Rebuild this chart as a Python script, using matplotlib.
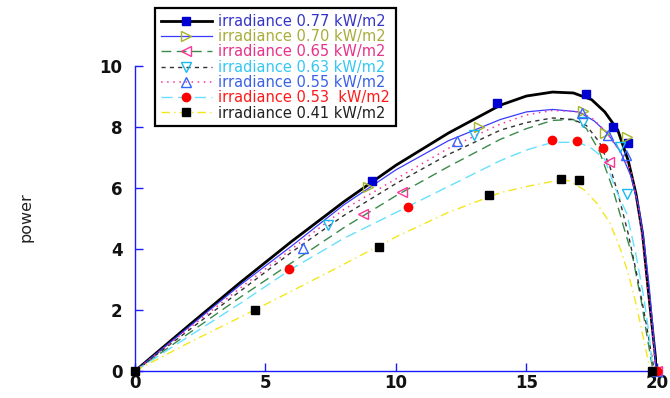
#!/usr/bin/env python3
"""PV array power vs voltage at several irradiance levels (simulated curves + measured points)."""

import matplotlib
matplotlib.use("Agg")
import matplotlib.pyplot as plt
from matplotlib.lines import Line2D

# Irradiance levels (kW/m2) and legend labels
IRRADIANCE_LABELS = [
    "irradiance 0.77 kW/m2",
    "irradiance 0.70 kW/m2",
    "irradiance 0.65 kW/m2",
    "irradiance 0.63 kW/m2",
    "irradiance 0.55 kW/m2",
    "irradiance 0.53  kW/m2",
    "irradiance 0.41 kW/m2",
]

# Simulated P-V curves
v_077 = [0, 2, 4, 6, 8, 10, 12, 14, 15, 16, 16.8, 17.5, 18, 18.5, 18.9, 19.2, 19.45, 19.65, 19.85, 20]
p_077 = [0, 1.45, 2.88, 4.25, 5.55, 6.75, 7.8, 8.72, 9.02, 9.15, 9.12, 8.9, 8.5, 7.9, 6.9, 5.8, 4.5, 2.8, 1.2, 0]

v_070 = [0, 2, 4, 6, 8, 10, 12, 14, 15, 16, 17, 17.6, 18.1, 18.6, 19.0, 19.3, 19.5, 19.7, 19.85, 19.97]
p_070 = [0, 1.4, 2.8, 4.1, 5.45, 6.6, 7.55, 8.25, 8.5, 8.58, 8.5, 8.2, 7.8, 7.2, 6.4, 5.4, 4.3, 2.8, 1.4, 0]

v_065 = [0, 2, 4, 6, 8, 10, 12, 14, 15, 16, 16.8, 17.3, 17.8, 18.3, 18.7, 19.08, 19.4, 19.6, 19.85]
p_065 = [0, 1.2, 2.4, 3.55, 4.7, 5.75, 6.7, 7.6, 7.95, 8.22, 8.25, 7.95, 7.2, 6.0, 4.8, 3.7, 2.3, 1.25, 0]

v_063 = [0, 2, 4, 6, 8, 10, 12, 14, 15, 16, 16.8, 17.3, 17.8, 18.2, 18.5, 18.9, 19.27, 19.6, 19.9]
p_063 = [0, 1.3, 2.6, 3.9, 5.1, 6.15, 7.1, 7.9, 8.15, 8.3, 8.25, 8.05, 7.5, 6.7, 5.85, 4.5, 3.0, 1.5, 0]

v_055 = [0, 2, 4, 6, 8, 10, 12, 14, 15, 16, 17, 17.5, 18, 18.5, 19.0, 19.3, 19.5, 19.7, 19.85, 19.95]
p_055 = [0, 1.35, 2.7, 4.0, 5.3, 6.3, 7.3, 8.1, 8.4, 8.55, 8.5, 8.3, 7.9, 7.3, 6.6, 5.3, 3.8, 2.3, 1.0, 0]

v_053 = [0, 2, 4, 6, 8, 10, 12, 14, 15, 16, 17, 17.5, 18, 18.4, 18.85, 19.2, 19.5, 19.7, 19.85]
p_053 = [0, 1.1, 2.2, 3.35, 4.35, 5.2, 6.05, 6.9, 7.25, 7.5, 7.5, 7.3, 6.95, 6.0, 5.15, 3.8, 2.4, 1.2, 0]

v_041 = [0, 2, 4, 6, 8, 10, 12, 14, 15, 16, 16.6, 17.2, 17.7, 18.2, 18.6, 18.9, 19.2, 19.5, 19.75]
p_041 = [0, 0.9, 1.75, 2.62, 3.5, 4.4, 5.2, 5.85, 6.05, 6.22, 6.25, 5.95, 5.5, 4.85, 4.0, 3.2, 2.2, 1.0, 0]

# Measured points
mv_077 = [9.08, 13.87, 17.28, 18.31, 18.89]
mp_077 = [6.23, 8.79, 9.08, 8.0, 7.48]
mv_070 = [8.93, 13.18, 17.16, 18.0, 18.85]
mp_070 = [6.03, 8.0, 8.52, 7.8, 7.67]
mv_065 = [8.74, 10.23, 18.16, 20.0]
mp_065 = [5.15, 5.87, 6.85, 0]
mv_063 = [7.39, 12.99, 17.16, 18.58, 18.85]
mp_063 = [4.79, 7.74, 8.16, 7.34, 5.8]
mv_055 = [6.44, 12.34, 17.13, 18.12, 18.81, 20.0]
mp_055 = [4.03, 7.54, 8.46, 7.74, 7.08, 0]
mv_053 = [5.9, 10.46, 15.98, 16.93, 17.93, 20.0]
mp_053 = [3.34, 5.38, 7.57, 7.54, 7.31, 0]
mv_041 = [0, 4.6, 9.35, 13.56, 16.32, 17.01, 19.8]
mp_041 = [0, 2.0, 4.07, 5.77, 6.30, 6.26, 0]

X_TICKS = [0, 5, 10, 15, 20]
Y_TICKS = [0, 2, 4, 6, 8, 10]

AXIS_BLUE = "#1a1aff"

# (curve x, curve y, points x, points y, line style, marker style, label colour)
SERIES = [
    (v_077, p_077, mv_077, mp_077,
     dict(color="black", lw=2.0, ls="-"),
     dict(marker="s", ms=6, mfc="#0000d0", mec="#0000d0"), "#3535c8"),
    (v_070, p_070, mv_070, mp_070,
     dict(color="#3a3aff", lw=0.9, ls="-"),
     dict(marker=">", ms=6.5, mfc="none", mec="#a8b52a", mew=1.0), "#a9ad3a"),
    (v_065, p_065, mv_065, mp_065,
     dict(color="#3a8a4a", lw=1.0, ls=(0, (7, 4))),
     dict(marker="<", ms=6.5, mfc="none", mec="#ff3399", mew=1.0), "#e8328a"),
    (v_063, p_063, mv_063, mp_063,
     dict(color="#333333", lw=1.0, ls=(0, (3, 3))),
     dict(marker="v", ms=6.5, mfc="none", mec="#18b8f0", mew=1.0), "#33c8f5"),
    (v_055, p_055, mv_055, mp_055,
     dict(color="#ff3399", lw=1.1, ls=(0, (1, 3))),
     dict(marker="^", ms=6.5, mfc="none", mec="#3366ff", mew=1.0), "#3a62e8"),
    (v_053, p_053, mv_053, mp_053,
     dict(color="#66e0ff", lw=1.0, ls=(0, (8, 4))),
     dict(marker="o", ms=6, mfc="red", mec="red"), "#ff1a1a"),
    (v_041, p_041, mv_041, mp_041,
     dict(color="#f5e61c", lw=1.0, ls=(0, (6, 3, 1, 3))),
     dict(marker="s", ms=6, mfc="black", mec="black"), "#222222"),
]


def main():
    fig = plt.figure(figsize=(6.7, 3.98), dpi=100)
    ax = fig.add_axes([0.2015, 0.0678, 0.779, 0.766])

    handles = []
    for cx, cy, mx, my, line_kw, mark_kw, _ in SERIES:
        ax.plot(cx, cy, **line_kw, zorder=2)
        ax.plot(mx, my, ls="none", clip_on=False, zorder=3, **mark_kw)
        handles.append(Line2D([], [], **line_kw, **mark_kw))

    ax.set_xlim(0, 20)
    ax.set_ylim(0, 10)
    ax.set_xticks(X_TICKS)
    ax.set_yticks(Y_TICKS)

    for side in ("top", "right"):
        ax.spines[side].set_visible(False)
    for side in ("left", "bottom"):
        ax.spines[side].set_color(AXIS_BLUE)
        ax.spines[side].set_linewidth(1.0)

    ax.tick_params(axis="both", direction="in", length=6, width=1.0,
                   color=AXIS_BLUE, labelsize=12, labelcolor="#111111")
    ax.tick_params(axis="y", pad=9)
    ax.tick_params(axis="x", pad=2)
    for lbl in ax.get_xticklabels() + ax.get_yticklabels():
        lbl.set_fontweight("bold")

    fig.text(0.039, 0.455, "power", rotation=90, fontsize=11.5,
             ha="center", va="center", color="#222222")

    leg = fig.legend(
        handles, IRRADIANCE_LABELS,
        loc="upper left", bbox_to_anchor=(0.231, 0.98),
        bbox_transform=fig.transFigure,
        fontsize=10.5, numpoints=1, handlelength=3.5, handletextpad=0.45,
        labelspacing=0.02, borderpad=0.4, borderaxespad=0.0,
        fancybox=False, framealpha=1.0,
    )
    leg.get_frame().set_edgecolor("black")
    leg.get_frame().set_linewidth(1.6)
    for txt, series in zip(leg.get_texts(), SERIES):
        txt.set_color(series[6])

    fig.savefig("out.png", dpi=100)
    plt.close(fig)


if __name__ == "__main__":
    main()
